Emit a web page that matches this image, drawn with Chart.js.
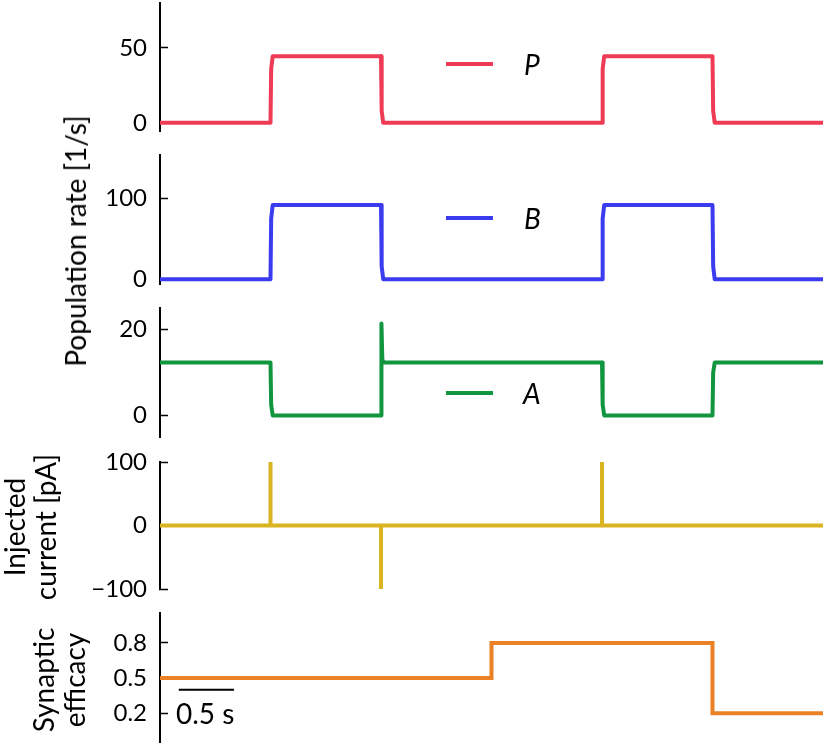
<!DOCTYPE html>
<html><head><meta charset="utf-8">
<script src="https://cdn.jsdelivr.net/npm/chart.js@4.4.0/dist/chart.umd.min.js"></script>
<style>
html,body{margin:0;padding:0;background:#fff;overflow:hidden;}
#wrap{position:relative;width:826px;height:746px;overflow:hidden;font-family:Lato,"DejaVu Sans",sans-serif;color:#000;}
canvas.panel{position:absolute;left:0;}
.ytitle{position:absolute;transform:translate(-50%,-50%) rotate(-90deg);white-space:nowrap;text-align:center;font-size:28px;}
.legline{position:absolute;height:4px;width:47px;}
.legtxt{position:absolute;font-size:28px;line-height:28px;font-style:italic;}
.sbtxt{position:absolute;font-size:28px;line-height:28px;}
</style></head>
<body><div id="wrap">
<canvas id="cP" class="panel"></canvas>
<canvas id="cB" class="panel"></canvas>
<canvas id="cA" class="panel"></canvas>
<canvas id="cI" class="panel"></canvas>
<canvas id="cS" class="panel"></canvas>
<div class="ytitle" style="left:75px;top:241px;line-height:32px;">Population rate [1/s]</div>
<div class="ytitle" style="left:30px;top:527px;line-height:31px;">Injected<br>current [pA]</div>
<div class="ytitle" style="left:59px;top:680px;line-height:31px;">Synaptic<br>efficacy</div>
<div class="legline" style="left:446px;top:62px;background:#ef3b55;"></div>
<div class="legtxt" style="left:524px;top:50px;">P</div>
<div class="legline" style="left:446px;top:216px;background:#3b3bf0;"></div>
<div class="legtxt" style="left:524px;top:204px;">B</div>
<div class="legline" style="left:446px;top:391px;background:#12953f;"></div>
<div class="legtxt" style="left:523px;top:379px;">A</div>
<div class="sbtxt" style="left:176px;top:699px;">0.5 s</div>
</div>
<script>
// ---- data (time in s) ----
const timeRate = [0, 1.0, 1.006, 1.02, 2.0, 2.006, 2.02, 4.0, 4.006, 4.02, 5.0, 5.006, 5.02, 6.0];
const rateP    = [0, 0, 36, 44.5, 44.5, 8, 0, 0, 36, 44.5, 44.5, 8, 0, 0];
const rateB    = [0, 0, 75, 91.7, 91.7, 16, 0, 0, 75, 91.7, 91.7, 16, 0, 0];
const timeA    = [0, 1.0, 1.006, 1.02, 2.0, 2.004, 2.012, 2.025, 4.0, 4.006, 4.02, 5.0, 5.006, 5.02, 6.0];
const rateA    = [12.3, 12.3, 2.5, 0, 0, 21.4, 13, 12.3, 12.3, 2.5, 0, 0, 10, 12.3, 12.3];
const timeI    = [0, 1, 1, 1, 2, 2, 2, 4, 4, 4, 6];
const currentI = [0, 0, 100, 0, 0, -100, 0, 0, 100, 0, 0];
const timeS    = [0, 3, 3, 5, 5, 6];
const efficacyS= [0.5, 0.5, 0.8, 0.8, 0.2, 0.2];
const scaleBarT= [0.17, 0.67];
const scaleBarY= [0.4, 0.4];
const ticksP = [0, 50];
const ticksB = [0, 100];
const ticksA = [0, 20];
const ticksI = [-100, 0, 100];
const ticksS = [0.2, 0.5, 0.8];

const FONT = 'Lato, "DejaVu Sans", sans-serif';
const PAD = 40;

function pts(t, v){ return t.map((x,i)=>({x:x, y:v[i]})); }
function fmt(v){ return v < 0 ? '\u2212' + Math.abs(v) : String(v); }

function panel(id, areaTop, areaBot, yMin, yMax, yTicks, datasets){
  const cv = document.getElementById(id);
  const h = (areaBot - areaTop) + 2*PAD;
  cv.width = 826; cv.height = h;
  cv.style.width = '826px'; cv.style.height = h + 'px';
  cv.style.top = (areaTop - PAD) + 'px';
  return new Chart(cv, {
    type: 'line',
    data: { datasets: datasets },
    options: {
      responsive: false, animation: false, devicePixelRatio: 1,
      layout: { padding: { top: PAD, bottom: PAD, left: 0, right: 3 } },
      plugins: { legend: { display: false }, tooltip: { enabled: false } },
      elements: { point: { radius: 0 }, line: { tension: 0 } },
      scales: {
        x: { type: 'linear', min: 0, max: 6, display: false },
        y: {
          type: 'linear', min: yMin, max: yMax,
          afterBuildTicks: (ax) => { ax.ticks = yTicks.map(v => ({ value: v })); },
          afterFit: (ax) => { ax.width = 160; ax.paddingTop = 0; ax.paddingBottom = 0; },
          ticks: { autoSkip: false, padding: 21, color: '#000', font: { family: FONT, size: 24 }, callback: (v) => fmt(v) },
          grid: { display: true, drawOnChartArea: false, drawTicks: true, tickLength: -8, tickWidth: 1.5, tickColor: '#000' },
          border: { display: true, color: '#000', width: 2 }
        }
      }
    }
  });
}

function ds(t, v, color, join, w){
  return { data: pts(t, v), borderColor: color, borderWidth: w || 4, borderJoinStyle: join || 'round', pointRadius: 0, fill: false };
}

panel('cP', 3, 131, -5.5, 80, ticksP, [ds(timeRate, rateP, '#ef3b55')]);
panel('cB', 155, 284, -6, 153.5, ticksB, [ds(timeRate, rateB, '#3b3bf0')]);
panel('cA', 308, 437, -5, 25, ticksA, [ds(timeA, rateA, '#12953f')]);
panel('cI', 462, 589, -100, 100, ticksI, [ds(timeI, currentI, '#d9b420', 'miter')]);
panel('cS', 613, 742, -0.045, 1.055, ticksS, [ds(timeS, efficacyS, '#ea8127', 'miter'), ds(scaleBarT, scaleBarY, '#000', 'miter', 2)]);
</script>
</body></html>
